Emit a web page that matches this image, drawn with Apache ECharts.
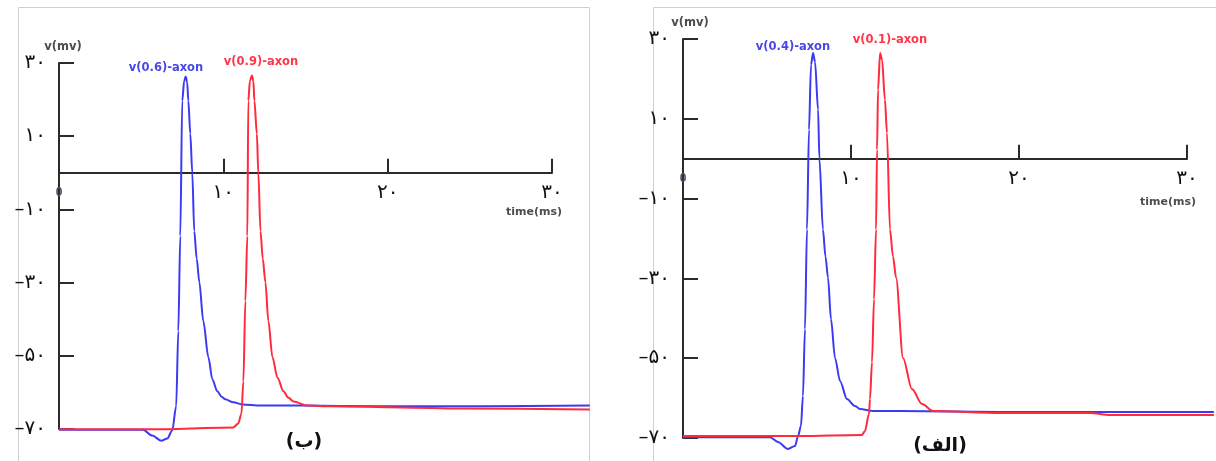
<!DOCTYPE html>
<html>
<head>
<meta charset="utf-8">
<script src="https://cdn.jsdelivr.net/npm/echarts@6/dist/echarts.min.js"></script>
<style>
html,body{margin:0;padding:0;background:#fff;}
#chart{width:1216px;height:461px;}
</style>
</head>
<body>
<div id="chart"></div>
<script>
// ---- data (time in ms, voltage in mV) ----
// panel (ب) – left
const tLeftBlue = [0, 5.12, 5.67, 6.22, 6.59, 6.89, 7.13, 7.26, 7.38, 7.5, 7.62, 7.71, 7.8, 7.87, 7.99, 8.11, 8.23, 8.38, 8.54, 8.78, 9.09, 9.33, 9.63, 9.9, 10.12, 10.61, 11.16, 12.26, 14.7, 19.6, 25.7, 32.3];
const vLeftBlue = [-70.2, -70.2, -71.8, -73.2, -72.6, -70.4, -63.8, -43.3, -17.3, 19.7, 25.2, 26.3, 24.7, 19.7, 10.7, 0, -15.9, -23.5, -29.9, -40.5, -50.4, -56.4, -59.7, -61.2, -61.9, -62.7, -63.3, -63.6, -63.6, -63.8, -63.8, -63.6];
const tLeftRed = [0, 5.55, 10.6, 10.91, 11.1, 11.22, 11.34, 11.46, 11.52, 11.62, 11.74, 11.83, 11.89, 12.04, 12.13, 12.26, 12.4, 12.56, 12.74, 12.99, 13.29, 13.66, 13.95, 14.27, 15.12, 16.52, 20.8, 24.45, 32.3];
const vLeftRed = [-70.1, -70.1, -69.6, -68.5, -65.8, -57, -35, -17.3, 19.7, 25.2, 26.6, 25, 19.7, 10.7, 0, -15.9, -23.5, -29.9, -40.5, -50.4, -55.9, -59.7, -61.4, -62.5, -63.6, -63.8, -64.1, -64.4, -64.7];
// panel (الف) – right
const tRightBlue = [0, 5.18, 5.65, 6.25, 6.67, 6.85, 7.02, 7.14, 7.26, 7.38, 7.5, 7.62, 7.74, 7.86, 8.04, 8.12, 8.33, 8.48, 8.63, 8.81, 9.05, 9.35, 9.76, 10.24, 10.54, 11.31, 12.9, 18.9, 31.6];
const vRightBlue = [-69.8, -69.8, -71, -72.75, -72, -69.5, -67, -59.5, -42.75, -17.75, 7.25, 23.5, 26.5, 24.25, 12.25, 0, -17.75, -24.5, -29.75, -40.25, -50, -55.75, -60.25, -62, -62.75, -63.25, -63.25, -63.5, -63.5];
const tRightRed = [0, 6.96, 10.65, 10.83, 11.07, 11.13, 11.25, 11.37, 11.49, 11.55, 11.61, 11.73, 11.85, 12.02, 12.14, 12.32, 12.5, 12.68, 13.1, 13.63, 14.23, 14.88, 18.87, 24.23, 25.42, 31.6];
const vRightRed = [-69.5, -69.5, -69.25, -68.25, -64, -60.25, -51, -35.25, -17.75, 2.25, 17.25, 26.5, 24.75, 14.75, 6.5, -17.75, -24.5, -29.75, -50, -57.75, -61.5, -63.25, -63.75, -63.75, -64.25, -64.25];

const seriesNames = ['v(0.6)-axon', 'v(0.9)-axon', 'v(0.4)-axon', 'v(0.1)-axon'];
const panelLabels = ['(ب)', '(الف)'];
const yAxisTitle = 'v(mv)';
const xAxisTitle = 'time(ms)';
const xMin = 0, xMax = 30, xStep = 10;          // drawn time axis
const xDataMaxLeft = 32.3, xDataMaxRight = 31.6; // traces run on past the axis end
const yMin = -70, yMax = 30, yStep = 20;

const BLUE = '#3b3bf2';
const RED = '#ff2b3c';
const FA_DIGITS = '۰۱۲۳۴۵۶۷۸۹';
function fa(n) {
  const s = String(Math.abs(n)).replace(/\d/g, d => FA_DIGITS[+d]);
  return (n < 0 ? '–' : '') + s;
}
function zip(t, v) { return t.map((x, i) => [x, v[i]]); }

// panel frames (axis grid: 0..30 ms), and data grids with the same scale that reach the panel edge
const panels = [
  {left: 59, top: 63, width: 493, height: 366, dataMax: xDataMaxLeft},
  {left: 683, top: 39, width: 504, height: 399, dataMax: xDataMaxRight}
];
const grids = [];
panels.forEach(p => {
  grids.push({left: p.left, top: p.top, width: p.width, height: p.height});
  grids.push({left: p.left, top: p.top, width: p.width * p.dataMax / (xMax - xMin), height: p.height});
});

const chart = echarts.init(document.getElementById('chart'), null, {renderer: 'canvas'});

const xAxes = [], yAxes = [];
panels.forEach((p, i) => {
  const zeroShift = p.height * (0 - yMin) / (yMax - yMin);
  // visible axes
  xAxes.push({
    type: 'value', gridIndex: 2 * i, min: xMin, max: xMax, interval: xStep,
    position: 'bottom', offset: -zeroShift,
    axisLine: {onZero: false, lineStyle: {color: '#2b2b2b', width: 2}},
    axisTick: {inside: true, length: 14, lineStyle: {color: '#2b2b2b', width: 2}},
    splitLine: {show: false},
    axisLabel: {
      margin: 10, color: '#111', fontSize: 20, fontFamily: 'DejaVu Sans',
      formatter: v => v === 0 ? '{z|0}' : fa(v),
      rich: {z: {fontSize: 12, fontWeight: 'bold', color: '#4f5068', fontFamily: 'Liberation Sans', padding: [4, 0, 0, 0]}}
    }
  });
  yAxes.push({
    type: 'value', gridIndex: 2 * i, min: yMin, max: yMax, interval: yStep,
    axisLine: {onZero: false, lineStyle: {color: '#2b2b2b', width: 2}},
    axisTick: {inside: true, length: 15, lineStyle: {color: '#2b2b2b', width: 2}},
    splitLine: {show: false},
    axisLabel: {margin: 13, color: '#111', fontSize: 20, fontFamily: 'DejaVu Sans', formatter: v => fa(v)}
  });
  // hidden data axes
  xAxes.push({type: 'value', gridIndex: 2 * i + 1, min: xMin, max: p.dataMax, show: false});
  yAxes.push({type: 'value', gridIndex: 2 * i + 1, min: yMin, max: yMax, show: false});
});

function lineSeries(name, data, color, axisIdx) {
  return {
    name, type: 'line', xAxisIndex: axisIdx, yAxisIndex: axisIdx, data,
    showSymbol: false, clip: false, smooth: 0.3, smoothMonotone: 'x', z: 3,
    lineStyle: {color, width: 2}, itemStyle: {color}, animation: false
  };
}
function txt(text, x, y, color, size, family, weight) {
  return {
    type: 'text', silent: true,
    style: {text, x, y, fill: color, align: 'center', verticalAlign: 'middle',
      textAlign: 'center', textVerticalAlign: 'middle',
      font: (weight || 'bold') + ' ' + size + 'px "' + (family || 'DejaVu Sans') + '"'}
  };
}

const option = {
  backgroundColor: '#fff',
  animation: false,
  grid: grids,
  xAxis: xAxes,
  yAxis: yAxes,
  series: [
    lineSeries(seriesNames[0], zip(tLeftBlue, vLeftBlue), BLUE, 1),
    lineSeries(seriesNames[1], zip(tLeftRed, vLeftRed), RED, 1),
    lineSeries(seriesNames[2], zip(tRightBlue, vRightBlue), BLUE, 3),
    lineSeries(seriesNames[3], zip(tRightRed, vRightRed), RED, 3)
  ],
  graphic: [
    {type: 'rect', silent: true, z: -10, shape: {x: 18.5, y: 7.5, width: 571, height: 470},
      style: {fill: 'none', stroke: '#cfcfcf', lineWidth: 1}},
    {type: 'rect', silent: true, z: -10, shape: {x: 653.5, y: 7.5, width: 600, height: 470},
      style: {fill: 'none', stroke: '#cfcfcf', lineWidth: 1}},
    txt(yAxisTitle, 63, 47, '#4d4d4d', 11.5),
    txt(xAxisTitle, 534, 212, '#4d4d4d', 11),
    txt(seriesNames[0], 166, 68, '#4848e6', 11.5),
    txt(seriesNames[1], 261, 62, '#ff3548', 11.5),
    txt(panelLabels[0], 304, 442, '#111', 19),
    txt(yAxisTitle, 690, 23, '#4d4d4d', 11.5),
    txt(xAxisTitle, 1168, 202, '#4d4d4d', 11),
    txt(seriesNames[2], 793, 47, '#4848e6', 11.5),
    txt(seriesNames[3], 890, 40, '#ff3548', 11.5),
    txt(panelLabels[1], 940, 446, '#111', 19)
  ]
};
chart.setOption(option);
</script>
</body>
</html>
